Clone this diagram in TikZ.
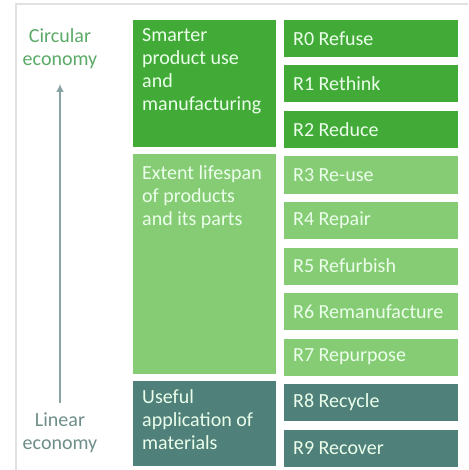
\documentclass[tikz,border=0pt]{standalone}
\usepackage{fontspec}
\setmainfont{Carlito}
\usetikzlibrary{arrows.meta}
\definecolor{dkgreen}{RGB}{66,171,56}
\definecolor{ltgreen}{RGB}{134,204,117}
\definecolor{tealc}{RGB}{79,128,122}
\definecolor{circ}{RGB}{92,170,104}
\definecolor{lin}{RGB}{110,142,138}
\definecolor{arrowc}{RGB}{140,163,166}
\definecolor{framec}{RGB}{225,225,225}
\tikzset{
  btext/.style={text=white!92!green, font=\fontsize{20}{23}\selectfont, inner sep=0pt, align=left},
  side/.style={font=\fontsize{20}{23}\selectfont, align=center, inner sep=0pt},
}
\begin{document}
\begin{tikzpicture}[x=1pt,y=-1pt]
\useasboundingbox (0,0) rectangle (468,470);
\fill[white] (0,0) rectangle (468,470);
\draw[framec, line width=2pt] (16,470) -- (16,4) -- (468,4);
% left column
\fill[dkgreen] (133,20) rectangle (276,147);
\fill[ltgreen] (133,154) rectangle (276,374);
\fill[tealc] (133,381) rectangle (276,466);
\node[btext, anchor=north west] (sm) at (142,28) {Smarter\\product use\\and\\manufacturing};
\node[btext, anchor=north west] (ex) at (142,165) {Extent lifespan\\of products\\and its parts};
\node[btext, anchor=north west] (us) at (142,389) {Useful\\application of\\materials};
% right column
\foreach \i/\t/\c in {0/R0 Refuse/dkgreen,1/R1 Rethink/dkgreen,2/R2 Reduce/dkgreen,
  3/R3 Re-use/ltgreen,4/R4 Repair/ltgreen,5/R5 Refurbish/ltgreen,6/R6 Remanufacture/ltgreen,
  7/R7 Repurpose/ltgreen,8/R8 Recycle/tealc,9/R9 Recover/tealc}{
  \fill[\c] (284,20+45.5*\i) rectangle (458,57+45.5*\i);
  \node[btext, anchor=west] (r\i) at (293,38.5+45.5*\i) {\t};
}
% side labels
\node[side, text=circ] (ce) at (60,49) {Circular\\economy};
\node[side, text=lin] (le) at (60,433) {Linear\\economy};
\coordinate (abot) at (60,403);
\coordinate (atop) at (60,84);
\draw[arrowc, line width=2pt, -{Latex[length=8pt,width=8pt]}] (abot) -- (atop);
\end{tikzpicture}
\end{document}
